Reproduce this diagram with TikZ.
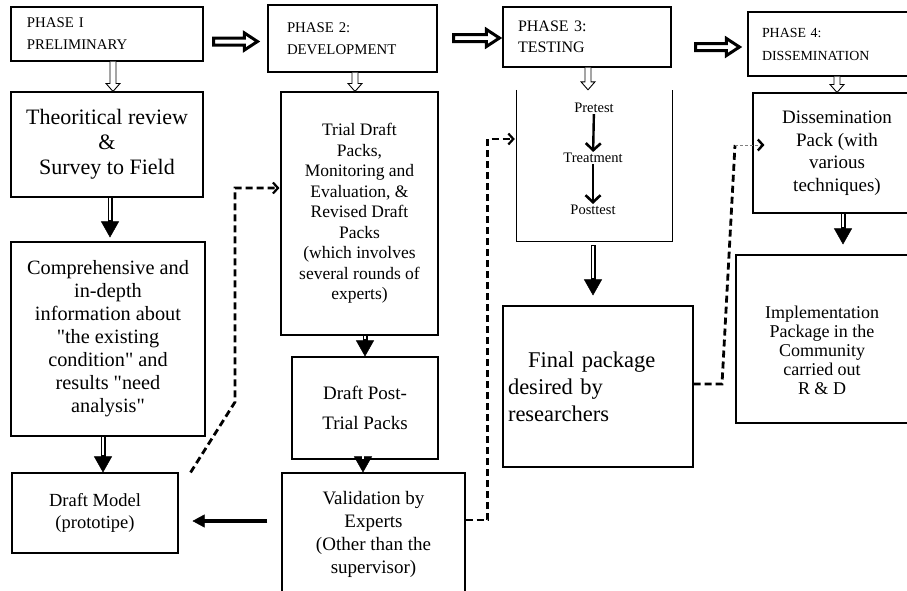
\documentclass[tikz,border=0pt]{standalone}
\usepackage{fontspec}
\setmainfont{Liberation Serif}
\usetikzlibrary{arrows.meta,calc}
\newcommand{\hdown}[2]{\draw[hollowv] let \p1=(#1), \p2=(#2) in
  (\x1-3pt,\y1) -- (\x1-3pt,\y2+8pt) -- (\x1-7pt,\y2+8pt) -- (\x1,\y2) --
  (\x1+7pt,\y2+8pt) -- (\x1+3pt,\y2+8pt) -- (\x1+3pt,\y1);}
\newcommand{\hright}[2]{\draw[hollowh] let \p1=(#1), \p2=(#2) in
  (\x1,\y1+3.5pt) -- (\x2-13pt,\y1+3.5pt) -- (\x2-13pt,\y1+8.5pt) -- (\x2,\y1) --
  (\x2-13pt,\y1-8.5pt) -- (\x2-13pt,\y1-3.5pt) -- (\x1,\y1-3.5pt) -- cycle;}
\begin{document}
\begin{tikzpicture}[x=1pt,y=-1pt,
  box/.style={draw, line width=1.1pt, inner sep=0pt, align=center},
  hollowv/.style={draw, line width=0.9pt, fill=white},
  hollowh/.style={draw, line width=3pt, fill=white, line join=miter},
  dblout/.style={line width=5pt, -{Triangle[width=18pt,length=16pt,line width=0.4pt]}},
  dblin/.style={white, line width=1.6pt, shorten <=0.7pt},
  dashconn/.style={line width=2.8pt, dash pattern=on 7pt off 4pt, -{Straight Barb[length=5pt,width=11pt,line width=2.2pt]}},
  dashplain/.style={line width=2.8pt, dash pattern=on 7pt off 4pt},
  dashthin/.style={gray, line width=0.7pt, dash pattern=on 3pt off 2pt, -{Straight Barb[length=5pt,width=11pt,line width=2.4pt,color=black]}},
  smallarr/.style={line width=2.4pt, -{Straight Barb[length=7pt,width=15pt,line width=2.6pt]}},
]
\useasboundingbox (0,0) rectangle (907,590);

% phase boxes
\node[box, minimum width=192pt, minimum height=54pt, text width=160pt, align=left,
  font=\fontsize{14.8}{22}\selectfont] (p1) at (107,34) {PHASE I\\PRELIMINARY};
\node[box, minimum width=169pt, minimum height=67pt, text width=131pt, align=left,
  font=\fontsize{14.8}{22}\selectfont] (p2) at (352.5,38.5) {PHASE 2:\\DEVELOPMENT};
\node[box, minimum width=168pt, minimum height=60pt, text width=138pt, align=left,
  font=\fontsize{16}{21}\selectfont] (p3) at (587,37) {PHASE 3:\\TESTING};
\node[box, minimum width=164pt, minimum height=64pt, text width=136pt, align=left,
  font=\fontsize{13.9}{23}\selectfont] (p4) at (830,44) {PHASE 4:\\DISSEMINATION};

% column 1
\node[box, minimum width=192pt, minimum height=105pt, font=\fontsize{22}{25}\selectfont]
  (theo) at (107,144.5) {Theoritical review\\\&\\Survey to Field};
\node[box, minimum width=194pt, minimum height=194pt, font=\fontsize{20.3}{23}\selectfont]
  (comp) at (108,339) {Comprehensive and\\in-depth\\information about\\\textquotedbl the existing\\condition\textquotedbl{} and\\results \textquotedbl need\\analysis\textquotedbl};
\node[box, minimum width=166pt, minimum height=80pt, font=\fontsize{18.5}{22}\selectfont]
  (dm) at (95,513) {Draft Model\\(prototipe)};

% column 2
\node[box, minimum width=157pt, minimum height=243pt, font=\fontsize{17.5}{20.5}\selectfont]
  (trial) at (359.5,213.5) {Trial Draft\\Packs,\\Monitoring and\\Evaluation, \&\\Revised Draft\\Packs\\(which involves\\several rounds of\\experts)};
\node[box, minimum width=146pt, minimum height=102pt, font=\fontsize{19}{30}\selectfont]
  (post) at (365,408) {Draft Post-\\Trial Packs};
\node[box, minimum width=183pt, minimum height=122pt, font=\fontsize{19}{23}\selectfont]
  (val) at (373.5,534) {Validation by\\Experts\\(Other than the\\supervisor)};

% column 3
\node[minimum width=155pt, minimum height=151pt, inner sep=0pt] (p3box) at (594.5,165.5) {};
\draw[line width=1.1pt] (p3box.north west) -- (p3box.south west) -- (p3box.south east) -- (p3box.north east);
\node[font=\fontsize{14.5}{17}\selectfont, inner sep=1pt] (pre) at (594,108) {Pretest};
\node[font=\fontsize{14.5}{17}\selectfont, inner sep=1pt] (treat) at (593,158) {Treatment};
\node[font=\fontsize{14.5}{17}\selectfont, inner sep=1pt] (postt) at (593,210) {Posttest};
\node[box, minimum width=190pt, minimum height=161pt, text width=180pt, align=left,
  font=\fontsize{22.5}{27}\selectfont] (final) at (598,386.5) {\hspace*{20pt}Final package\\desired by\\researchers};

% column 4
\node[box, minimum width=168pt, minimum height=120pt, font=\fontsize{19}{22.5}\selectfont]
  (diss) at (837,153) {Dissemination\\Pack (with\\various\\techniques)};
\node[box, minimum width=176pt, minimum height=168pt] (impl) at (824,339) {};
\node[align=center, inner sep=0pt, font=\fontsize{18}{19}\selectfont] (impltext) at (822,350)
  {Implementation\\Package in the\\Community\\carried out\\R \& D};

% horizontal hollow arrows between phases
\coordinate (a12) at ($(p1.east)+(10,7.5)$);
\coordinate (b12) at ($(p2.west)+(-10,0)$);
\hright{a12}{b12}
\coordinate (a23) at ($(p2.east)+(16,-0.5)$);
\coordinate (b23) at ($(p3.west)+(-3,0)$);
\hright{a23}{b23}
\coordinate (a34) at ($(p3.east)+(24,10)$);
\coordinate (b34) at ($(p4.west)+(-8,0)$);
\hright{a34}{b34}

% hollow down arrows
\coordinate (h1) at ($(p1.south)+(6,0)$);
\hdown{h1}{h1 |- theo.north}
\coordinate (h2) at ($(p2.south)+(2.5,0)$);
\hdown{h2}{h2 |- trial.north}
\coordinate (h3) at ($(p3.south)+(1,0)$);
\hdown{h3}{h3 |- p3box.north}
\coordinate (h4) at ($(p4.south)+(7,0)$);
\hdown{h4}{h4 |- diss.north}

% double shaft filled arrows
\coordinate (s1) at ($(theo.south)+(3,0)$);
\coordinate (e1) at ($(s1 |- comp.north)+(0,-4)$);
\draw[dblout] (s1) -- (e1);
\draw[dblin] (s1) -- ($(e1)+(0,-17)$);

\coordinate (s2) at ($(comp.south)+(-5,0)$);
\coordinate (e2) at (s2 |- dm.north);
\draw[dblout] (s2) -- (e2);
\draw[dblin] (s2) -- ($(e2)+(0,-17)$);

\coordinate (s3) at ($(trial.south)+(5.5,0)$);
\coordinate (e3) at (s3 |- post.north);
\draw[dblout] (s3) -- (e3);
\draw[dblin] (s3) -- ($(e3)+(0,-17)$);

\coordinate (s4) at ($(post.south)+(-2,0)$);
\coordinate (e4) at (s4 |- val.north);
\draw[dblout] (s4) -- (e4);
\draw[dblin] (s4) -- ($(e4)+(0,-17)$);

\coordinate (s5) at ($(p3box.south)+(-1.5,4)$);
\coordinate (e5) at ($(s5 |- final.north)+(0,-10)$);
\draw[dblout] (s5) -- (e5);
\draw[dblin] (s5) -- ($(e5)+(0,-17)$);

\coordinate (s6) at ($(diss.south)+(6,0)$);
\coordinate (e6) at ($(s6 |- impl.north)+(0,-10)$);
\draw[dblout] (s6) -- (e6);
\draw[dblin] (s6) -- ($(e6)+(0,-17)$);

% validation -> draft model
\coordinate (s7) at ($(val.west)+(-14,-13)$);
\coordinate (e7) at ($(dm.east)+(14,8)$);
\draw[line width=4pt, -{Triangle[width=13pt,length=12pt,line width=0.4pt]}] (s7) -- (e7);

% small arrows in testing box
\draw[smallarr] (pre) -- (treat);
\draw[smallarr] (treat) -- (postt);

% dashed connectors
\coordinate (d1s) at ($(dm.north east)+(12,0)$);
\coordinate (d1c) at (235,402);
\coordinate (d1e) at ($(trial.west)+(-1,-25.5)$);
\draw[dashconn] (d1s) -- (d1c) |- (d1e);

\coordinate (d2s) at ($(val.east)+(0,-14)$);
\coordinate (d2e) at ($(p3box.west)+(-2,-26.5)$);
\draw[dashconn] (d2s) -- ++(22,0) |- (d2e);

\coordinate (d3s) at ($(final.east)+(0,-2.5)$);
\coordinate (d3a) at (722,384);
\coordinate (d3b) at (735,145);
\coordinate (d3e) at ($(diss.west)+(12,-8)$);
\draw[dashplain] (d3s) -- (d3a) -- (d3b);
\draw[dashthin] (d3b) -- (d3e);

\end{tikzpicture}
\end{document}
